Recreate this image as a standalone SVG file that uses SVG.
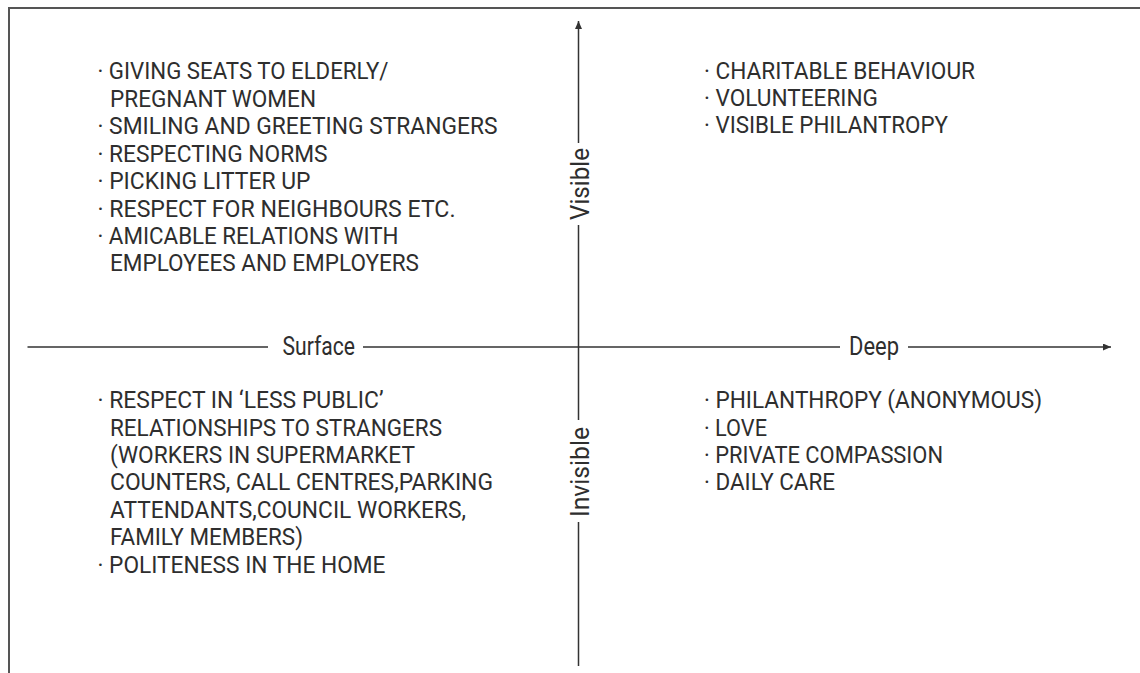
<svg xmlns="http://www.w3.org/2000/svg" width="1140" height="673" viewBox="0 0 1140 673">
<style>
.frame{fill:none;stroke:#555;stroke-width:2}
.axis{fill:none;stroke:#333;stroke-width:1.5}
.item{font-family:Roboto,"Liberation Sans",sans-serif;font-size:24px;fill:#2e2e2e}
.lab{font-family:Roboto,"Liberation Sans",sans-serif;font-size:25px;fill:#2e2e2e}
</style>
<defs>
<marker id="arr" markerUnits="userSpaceOnUse" markerWidth="10" markerHeight="8" refX="8" refY="3.5" orient="auto">
<path d="M0,0 L8,3.5 L0,7 Z" fill="#333"/>
</marker>
</defs>
<rect width="1140" height="673" fill="#fff"/>
<g id="frame">
<path class="frame" d="M9 673 V8 H1140"/>
</g>
<g id="connectors">
<path class="axis" d="M27.5 347 H268 M363 347 H840"/>
<path class="axis" d="M908 347 H1111" marker-end="url(#arr)"/>
<path class="axis" d="M578.5 666 V522 M578.5 420 V225"/>
<path class="axis" d="M578.5 143 V21" marker-end="url(#arr)"/>
</g>
<g id="axis-labels">
<text id="surface" class="lab" x="282.5" y="354.5" textLength="72.5" lengthAdjust="spacingAndGlyphs">Surface</text>
<text id="deep" class="lab" x="849" y="354.5" textLength="50" lengthAdjust="spacingAndGlyphs">Deep</text>
<text id="visible" class="lab" transform="translate(588.5,220) rotate(-90)" x="0" y="0" textLength="72" lengthAdjust="spacingAndGlyphs">Visible</text>
<text id="invisible" class="lab" transform="translate(588.5,517) rotate(-90)" x="0" y="0" textLength="90" lengthAdjust="spacingAndGlyphs">Invisible</text>
</g>
<g id="surface-visible" class="item">
<text x="97.5" y="79" textLength="291" lengthAdjust="spacingAndGlyphs">· GIVING SEATS TO ELDERLY/</text>
<text x="110" y="106.5" textLength="206" lengthAdjust="spacingAndGlyphs">PREGNANT WOMEN</text>
<text x="97.5" y="134" textLength="400" lengthAdjust="spacingAndGlyphs">· SMILING AND GREETING STRANGERS</text>
<text x="97.5" y="161.5" textLength="230" lengthAdjust="spacingAndGlyphs">· RESPECTING NORMS</text>
<text x="97.5" y="189" textLength="213" lengthAdjust="spacingAndGlyphs">· PICKING LITTER UP</text>
<text x="97.5" y="216.5" textLength="358" lengthAdjust="spacingAndGlyphs">· RESPECT FOR NEIGHBOURS ETC.</text>
<text x="97.5" y="244" textLength="301" lengthAdjust="spacingAndGlyphs">· AMICABLE RELATIONS WITH</text>
<text x="110" y="271" textLength="309" lengthAdjust="spacingAndGlyphs">EMPLOYEES AND EMPLOYERS</text>
</g>
<g id="deep-visible" class="item">
<text x="704" y="78.5" textLength="271" lengthAdjust="spacingAndGlyphs">· CHARITABLE BEHAVIOUR</text>
<text x="704" y="105.5" textLength="174" lengthAdjust="spacingAndGlyphs">· VOLUNTEERING</text>
<text x="704" y="133" textLength="244" lengthAdjust="spacingAndGlyphs">· VISIBLE PHILANTROPY</text>
</g>
<g id="surface-invisible" class="item">
<text x="97.5" y="408" textLength="286" lengthAdjust="spacingAndGlyphs">· RESPECT IN ‘LESS PUBLIC’</text>
<text x="110" y="435.5" textLength="332" lengthAdjust="spacingAndGlyphs">RELATIONSHIPS TO STRANGERS</text>
<text x="110" y="463" textLength="305" lengthAdjust="spacingAndGlyphs">(WORKERS IN SUPERMARKET</text>
<text x="110" y="490" textLength="383" lengthAdjust="spacingAndGlyphs">COUNTERS, CALL CENTRES,PARKING</text>
<text x="110" y="517.5" textLength="356" lengthAdjust="spacingAndGlyphs">ATTENDANTS,COUNCIL WORKERS,</text>
<text x="110" y="545" textLength="193" lengthAdjust="spacingAndGlyphs">FAMILY MEMBERS)</text>
<text x="97.5" y="572.5" textLength="288" lengthAdjust="spacingAndGlyphs">· POLITENESS IN THE HOME</text>
</g>
<g id="deep-invisible" class="item">
<text x="704" y="408" textLength="338" lengthAdjust="spacingAndGlyphs">· PHILANTHROPY (ANONYMOUS)</text>
<text x="704" y="435.5" textLength="63" lengthAdjust="spacingAndGlyphs">· LOVE</text>
<text x="704" y="463" textLength="239" lengthAdjust="spacingAndGlyphs">· PRIVATE COMPASSION</text>
<text x="704" y="490" textLength="131" lengthAdjust="spacingAndGlyphs">· DAILY CARE</text>
</g>
</svg>
